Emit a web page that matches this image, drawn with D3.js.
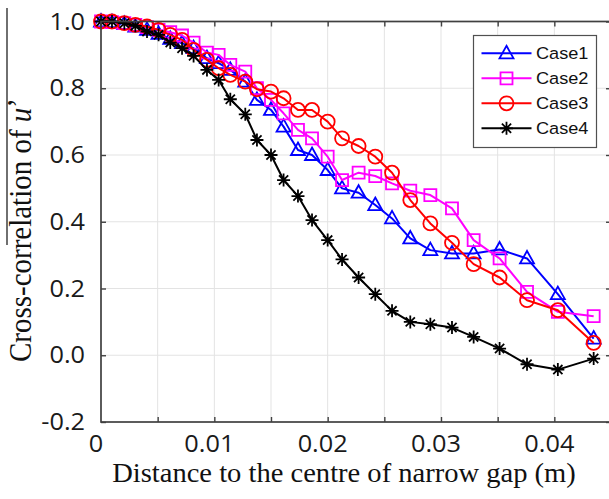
<!DOCTYPE html>
<html>
<head>
<meta charset="utf-8">
<script src="https://cdn.jsdelivr.net/npm/d3@7"></script>
<style>
  body { margin: 0; background: #ffffff; }
  svg { display: block; }
</style>
</head>
<body>
<svg id="chart" width="609" height="499"></svg>
<script>
// Distance from the centre of the narrow gap (m) at each measurement station
const distance = [0, 0.00097, 0.00206, 0.00303, 0.00406, 0.00508, 0.00611, 0.00715, 0.00817, 0.00935,
  0.01038, 0.01141, 0.01273, 0.01376, 0.0150, 0.01611, 0.01738, 0.01862, 0.0200, 0.02127,
  0.02273, 0.0242, 0.02568, 0.02729, 0.02906, 0.03097, 0.03288, 0.03517, 0.03759, 0.04031, 0.04347];

// Cross-correlation of u' for each case
const case1 = [1.0, 0.998, 0.993, 0.985, 0.975, 0.963, 0.948, 0.935, 0.92, 0.89,
  0.875, 0.855, 0.82, 0.765, 0.735, 0.685, 0.615, 0.60, 0.555, 0.50,
  0.487, 0.45, 0.41, 0.35, 0.315, 0.305, 0.305, 0.317, 0.29, 0.183, 0.05];
const case2 = [1.0, 0.998, 0.995, 0.99, 0.983, 0.975, 0.968, 0.958, 0.937, 0.907,
  0.90, 0.87, 0.85, 0.80, 0.765, 0.725, 0.675, 0.65, 0.595, 0.525,
  0.547, 0.537, 0.515, 0.493, 0.48, 0.44, 0.345, 0.29, 0.19, 0.13, 0.117];
const case3 = [1.0, 1.0, 0.995, 0.99, 0.985, 0.975, 0.96, 0.945, 0.915, 0.885,
  0.86, 0.84, 0.82, 0.797, 0.79, 0.77, 0.735, 0.735, 0.70, 0.65,
  0.627, 0.595, 0.547, 0.465, 0.395, 0.337, 0.273, 0.233, 0.165, 0.135, 0.037];
const case4 = [1.0, 1.0, 0.995, 0.987, 0.97, 0.96, 0.937, 0.92, 0.897, 0.855,
  0.825, 0.767, 0.722, 0.645, 0.60, 0.525, 0.477, 0.405, 0.345, 0.287,
  0.233, 0.183, 0.133, 0.10, 0.093, 0.083, 0.055, 0.02, -0.027, -0.043, -0.01];

const seriesNames = ["Case1", "Case2", "Case3", "Case4"];
const seriesColors = ["#0000ff", "#ff00ff", "#ff0000", "#000000"];
const seriesMarkers = ["triangle", "square", "circle", "star"];

const xTickValues = [0, 0.01, 0.02, 0.03, 0.04];
const xTickLabels = ["0", "0.01", "0.02", "0.03", "0.04"];
const yTickValues = [-0.2, 0, 0.2, 0.4, 0.6, 0.8, 1.0];
const yTickLabels = ["-0.2", "0.0", "0.2", "0.4", "0.6", "0.8", "1.0"];

const xTitle = "Distance to the centre of narrow gap (m)";

const svg = d3.select("#chart");

const plotLeft = 101, plotRight = 611, plotTop = 21.5, plotBottom = 422;
const x = d3.scaleLinear().domain([0, 0.045]).range([plotLeft, plotRight]);
const y = d3.scaleLinear().domain([-0.2, 1.0]).range([plotBottom, plotTop]);

const xMinor = d3.range(1, 9).map(i => +(i * 0.005).toFixed(3));

// grid
const grid = svg.append("g").attr("stroke", "#e3e3e3").attr("stroke-width", 1);
grid.selectAll("line.v").data(xMinor).join("line")
  .attr("x1", d => x(d)).attr("x2", d => x(d))
  .attr("y1", plotTop).attr("y2", plotBottom);
grid.selectAll("line.h").data(yTickValues.slice(1, -1)).join("line")
  .attr("x1", plotLeft).attr("x2", plotRight)
  .attr("y1", d => y(d)).attr("y2", d => y(d));

// inward ticks on all four sides
const tickColor = "#404040";
function styleAxis(g) {
  g.select(".domain").remove();
  g.selectAll("text").remove();
  g.selectAll("line").attr("stroke", tickColor).attr("stroke-width", 1.4);
}
svg.append("g").attr("transform", `translate(0,${plotBottom})`)
  .call(d3.axisBottom(x).tickValues(xMinor).tickSize(-5)).call(styleAxis);
svg.append("g").attr("transform", `translate(0,${plotTop})`)
  .call(d3.axisTop(x).tickValues(xMinor).tickSize(-5)).call(styleAxis);
svg.append("g").attr("transform", `translate(${plotLeft},0)`)
  .call(d3.axisLeft(y).tickValues(yTickValues).tickSize(-5)).call(styleAxis);
svg.append("g").attr("transform", `translate(${plotRight},0)`)
  .call(d3.axisRight(y).tickValues(yTickValues).tickSize(-5)).call(styleAxis);

// tick labels
const tickFont = "'Open Sans', 'Liberation Sans', sans-serif";
svg.append("g").selectAll("text").data(xTickValues).join("text")
  .attr("transform", d => `translate(${x(d) - 5},452) scale(1.1,1)`)
  .attr("text-anchor", "middle")
  .attr("font-family", tickFont).attr("font-size", 23).attr("fill", "#1a1a1a")
  .text((d, i) => xTickLabels[i]);
svg.append("g").selectAll("text").data(yTickValues).join("text")
  .attr("transform", d => `translate(85,${y(d) + 8.2}) scale(1.1,1)`)
  .attr("text-anchor", "end")
  .attr("font-family", tickFont).attr("font-size", 23).attr("fill", "#1a1a1a")
  .text((d, i) => yTickLabels[i]);

// marker shapes
function markerPath(type) {
  switch (type) {
    case "triangle": return "M0,-7.5L7,5L-7,5Z";
    case "square": return "M-6,-6H6V6H-6Z";
    case "circle": return "M7,0A7,7 0 1,1 -7,0A7,7 0 1,1 7,0Z";
    default: return "M-6.5,0H6.5M0,-6.5V6.5M-4.6,-4.6L4.6,4.6M-4.6,4.6L4.6,-4.6";
  }
}

const seriesValues = [case1, case2, case3, case4];
const line = d3.line().x(d => x(d[0])).y(d => y(d[1]));

seriesValues.forEach((vals, s) => {
  const pts = distance.map((d, i) => [d, vals[i]]);
  const g = svg.append("g");
  g.append("path").datum(pts)
    .attr("d", line).attr("fill", "none")
    .attr("stroke", seriesColors[s]).attr("stroke-width", 2)
    .attr("stroke-linejoin", "round");
  g.selectAll("path.m").data(pts).join("path")
    .attr("class", "m")
    .attr("transform", d => `translate(${x(d[0])},${y(d[1])})`)
    .attr("d", markerPath(seriesMarkers[s]))
    .attr("fill", "none").attr("stroke", seriesColors[s]).attr("stroke-width", 1.8);
});

// frame
svg.append("rect")
  .attr("x", plotLeft).attr("y", plotTop)
  .attr("width", plotRight - plotLeft).attr("height", plotBottom - plotTop)
  .attr("fill", "none").attr("stroke", tickColor).attr("stroke-width", 1.7);

// legend
const legend = svg.append("g");
legend.append("rect")
  .attr("x", 473.5).attr("y", 35.5).attr("width", 123).attr("height", 112)
  .attr("fill", "#ffffff").attr("stroke", "#505050").attr("stroke-width", 1.2);
seriesNames.forEach((name, s) => {
  const cy = 53.3 + s * 25;
  legend.append("line")
    .attr("x1", 481.5).attr("x2", 531.5).attr("y1", cy).attr("y2", cy)
    .attr("stroke", seriesColors[s]).attr("stroke-width", 2);
  legend.append("path")
    .attr("transform", `translate(506.5,${cy})`)
    .attr("d", markerPath(seriesMarkers[s]))
    .attr("fill", "none").attr("stroke", seriesColors[s]).attr("stroke-width", 1.8);
  legend.append("text")
    .attr("transform", `translate(536,${cy + 6}) scale(1.1,1)`)
    .attr("font-family", "'Liberation Sans', Arial, sans-serif").attr("font-size", 16.5)
    .attr("fill", "#111111")
    .text(name);
});

// axis titles
const serif = "'Liberation Serif', 'Times New Roman', serif";
svg.append("text")
  .attr("transform", "translate(344,482) scale(1.02,1)")
  .attr("text-anchor", "middle")
  .attr("font-family", serif).attr("font-size", 28).attr("fill", "#111111")
  .text(xTitle);

const yTitle = svg.append("text")
  .attr("transform", "translate(31,230) rotate(-90) scale(1,1.12)")
  .attr("text-anchor", "middle")
  .attr("font-family", serif).attr("font-size", 29).attr("fill", "#111111");
yTitle.append("tspan").text("Cross-correlation of ");
yTitle.append("tspan").attr("font-style", "italic").text("u");
yTitle.append("tspan").attr("dy", -2).text("\u2019");

// overline of the y title
svg.append("line")
  .attr("x1", 7).attr("x2", 7).attr("y1", 8).attr("y2", 245)
  .attr("stroke", "#222222").attr("stroke-width", 1.3);
</script>
</body>
</html>
